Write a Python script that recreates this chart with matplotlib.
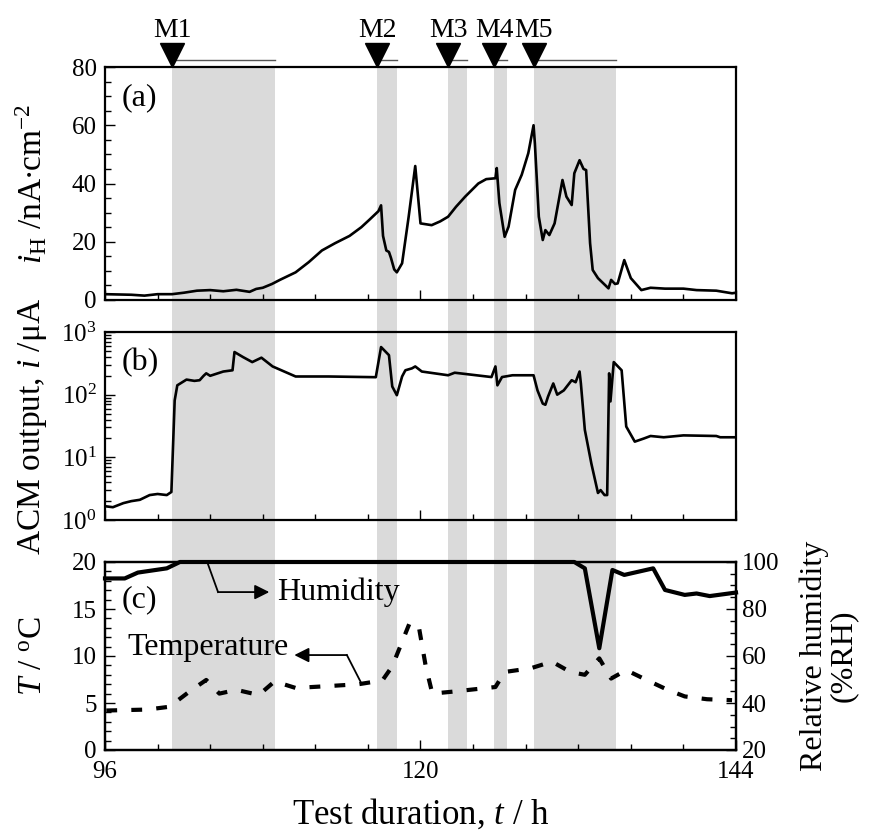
import matplotlib
matplotlib.use("Agg")
import matplotlib.pyplot as plt
from matplotlib.ticker import MultipleLocator, LogLocator, NullFormatter

plt.rcParams['font.family'] = ['Liberation Serif', 'DejaVu Serif']
plt.rcParams['mathtext.fontset'] = 'custom'
plt.rcParams['mathtext.rm'] = 'Liberation Serif'
plt.rcParams['mathtext.it'] = 'Liberation Serif:italic'

# shaded measurement periods (h)
marks = ["M1", "M2", "M3", "M4", "M5"]
shade_start = [101.1, 116.7, 122.1, 125.6, 128.6]
shade_end = [108.9, 118.2, 123.5, 126.6, 134.9]

# (a) hydrogen permeation current density, nA/cm2
t_a = [96.0, 98.0, 99.0, 100.0, 101.1, 102.0, 103.0, 104.0, 105.0, 106.0, 107.0, 107.5,
       108.0, 108.7, 109.3, 110.5, 111.5, 112.5, 113.5, 114.6, 115.5, 116.1, 116.8, 117.0,
       117.15, 117.4, 117.6, 117.75, 118.0, 118.2, 118.6, 119.1, 119.6, 120.0, 120.85,
       121.5, 122.1, 122.7, 123.4, 124.4, 125.0, 125.7, 125.8, 126.0, 126.4, 126.7, 127.2,
       127.7, 128.2, 128.6, 128.7, 129.0, 129.3, 129.5, 129.8, 130.2, 130.8, 131.1, 131.5,
       131.7, 132.1, 132.4, 132.6, 132.9, 133.1, 133.5, 134.3, 134.5, 134.8, 135.0, 135.5,
       136.0, 136.8, 137.5, 138.6, 140.0, 141.0, 142.5, 143.7, 144.0]
i_a = [2.0, 1.8, 1.5, 2.0, 2.0, 2.5, 3.2, 3.4, 3.0, 3.5, 2.8, 3.8,
       4.2, 5.5, 6.9, 9.5, 13.0, 17.0, 19.5, 22.0, 25.0, 27.5, 30.5, 32.5,
       22.0, 17.0, 16.5, 14.5, 10.5, 9.5, 12.6, 28.6, 46.0, 26.3, 25.7,
       27.0, 28.6, 32.0, 35.5, 40.0, 41.5, 41.8, 45.3, 33.3, 21.7, 25.2, 37.8,
       43.0, 50.4, 60.0, 53.8, 28.6, 20.6, 24.0, 22.3, 26.3, 41.2, 35.5, 32.6,
       43.5, 48.0, 45.0, 44.6, 19.5, 10.3, 7.5, 4.0, 6.9, 5.5, 5.7, 13.7,
       7.5, 3.4, 4.2, 3.9, 3.9, 3.4, 3.2, 2.3, 2.5]

# (b) ACM output, uA
t_b = [96.0, 96.6, 97.4, 98.0, 98.65, 99.4, 100.0, 100.7, 101.05, 101.3, 101.5, 102.2,
       102.8, 103.2, 103.5, 103.7, 104.0, 105.0, 105.7, 105.85, 106.5, 107.2, 107.9, 108.75,
       110.5, 113.0, 116.6, 117.0, 117.6, 117.85, 118.2, 118.6, 118.85, 119.35, 119.6, 120.1,
       122.1, 122.6, 125.4, 125.7, 125.85, 126.2, 127.0, 128.6, 128.9, 129.3, 129.5, 129.7,
       130.1, 130.4, 130.9, 131.5, 131.8, 132.1, 132.2, 132.5, 133.0, 133.5, 133.7, 134.0,
       134.2, 134.35, 134.45, 134.7, 135.3, 135.65, 136.3, 137.0, 137.5, 138.5, 140.0, 142.5,
       142.8, 144.0]
i_b = [1.66, 1.6, 1.86, 2.0, 2.1, 2.5, 2.6, 2.5, 2.8, 81, 141, 174,
       166, 170, 200, 219, 200, 234, 245, 479, 398, 331, 389, 282,
       195, 195, 190, 575, 427, 135, 98, 195, 245, 263, 282, 234,
       204, 224, 191, 282, 141, 191, 204, 204, 117, 72, 69, 93,
       151, 100, 117, 170, 158, 234, 151, 27.5, 7.9, 2.7, 3.0, 2.5,
       2.5, 219, 78, 331, 245, 31, 17.8, 20, 21.9, 20.9, 22.4, 21.9,
       20.9, 20.9]

# (c) relative humidity (%RH) and temperature (degC)
t_rh = [96.0, 97.5, 98.5, 100.7, 101.7, 131.7, 132.5, 133.6, 134.6, 135.5, 137.7, 138.6,
        140.1, 141.0, 142.0, 144.0]
rh = [93, 93, 95.5, 97.3, 100, 100, 97.3, 63.3, 96.6, 94.5, 97.3, 88.1,
      86, 86.6, 85.5, 87]
t_temp = [96.1, 99.2, 100.9, 102.5, 103.7, 104.7, 106.0, 107.7, 108.9, 110.5, 113.0, 115.3,
          117.1, 117.85, 119.2, 119.9, 120.4, 120.9, 122.4, 125.7, 126.4, 128.4, 130.0, 131.4,
          132.5, 133.6, 134.5, 135.65, 137.2, 138.8, 140.1, 141.8, 143.7]
temp = [4.2, 4.3, 4.6, 6.3, 7.45, 6.0, 6.4, 5.85, 7.3, 6.6, 6.8, 7.0,
        7.4, 8.9, 13.6, 12.9, 8.9, 6.0, 6.2, 6.7, 8.3, 8.7, 9.4, 8.3,
        8.0, 9.75, 7.6, 8.5, 7.45, 6.4, 5.7, 5.4, 5.3]

W, H = 873, 836
fig = plt.figure(figsize=(W / 100, H / 100), dpi=100)
L, R = 105, 736


def box(top, bottom):
    return [L / W, 1 - bottom / H, (R - L) / W, (bottom - top) / H]


shade = '#dadada'
ax_bg = fig.add_axes(box(67, 750), zorder=0)
ax_bg.set_xlim(96, 144)
ax_bg.set_ylim(0, 1)
ax_bg.axis('off')
for s, e in zip(shade_start, shade_end):
    ax_bg.axvspan(s, e, color=shade, lw=0)

ax_a = fig.add_axes(box(67, 300), zorder=2)
ax_b = fig.add_axes(box(332, 520), zorder=2)
ax_c = fig.add_axes(box(562, 750), zorder=2)
ax_r = ax_c.twinx()
ax_r.set_zorder(3)

tfs = 18
lfs = 24
for ax in (ax_a, ax_b, ax_c, ax_r):
    ax.set_facecolor('none')
    ax.set_xlim(96, 144)
    for sp in ax.spines.values():
        sp.set_linewidth(1.6)
    ax.xaxis.set_major_locator(MultipleLocator(24))
    ax.xaxis.set_minor_locator(MultipleLocator(4))
    ax.tick_params(which='both', direction='in', top=False, labelsize=tfs, width=1.0)
    ax.tick_params(which='major', length=7)
    ax.tick_params(which='minor', length=4)
    ax.tick_params(axis='y', pad=6)
    ax.tick_params(axis='x', pad=8)

for ax in (ax_a, ax_b, ax_c):
    ax.tick_params(right=False)
for ax in (ax_a, ax_b):
    ax.tick_params(labelbottom=False)

# (a)
ax_a.plot(t_a, i_a, color='black', lw=1.9)
ax_a.set_ylim(0, 80)
ax_a.yaxis.set_major_locator(MultipleLocator(20))
ax_a.yaxis.set_minor_locator(MultipleLocator(5))
ax_a.set_ylabel(r'$i_{\mathrm{H}}$ /nA$\bullet$cm$^{-2}$', fontsize=lfs)
ax_a.text(0.027, 0.87, '(a)', transform=ax_a.transAxes, fontsize=23, va='center')

for m, s, e in zip(marks, shade_start, shade_end):
    ax_a.plot([s, e], [82.3, 82.3], color='#555555', lw=1, clip_on=False)
    ax_a.plot([s], [84.2], marker='v', color='black', markersize=17, clip_on=False)
    ax_a.text(s, 88.3, m, ha='center', va='bottom', fontsize=20)

# (b)
ax_b.plot(t_b, i_b, color='black', lw=1.9)
ax_b.set_yscale('log')
ax_b.set_ylim(1, 1000)
ax_b.yaxis.set_major_locator(LogLocator(base=10, numticks=10))
ax_b.yaxis.set_minor_locator(LogLocator(base=10, subs=range(2, 10), numticks=10))
ax_b.yaxis.set_minor_formatter(NullFormatter())
ax_b.set_ylabel(r'ACM output, $i$ /$\mathrm{\mu}$A', fontsize=lfs)
ax_b.text(0.027, 0.84, '(b)', transform=ax_b.transAxes, fontsize=23, va='center')

# (c)
ax_c.plot(t_temp, temp, color='black', lw=3, linestyle=(0, (2.6, 3.4)))
ax_c.set_ylim(0, 20)
ax_c.yaxis.set_major_locator(MultipleLocator(5))
ax_c.yaxis.set_minor_locator(MultipleLocator(1))
ax_c.set_ylabel(r'$T$ / $^{\mathrm{o}}$C', fontsize=lfs)
ax_c.text(0.027, 0.8, '(c)', transform=ax_c.transAxes, fontsize=23, va='center')

ax_r.plot(t_rh, rh, color='black', lw=3, clip_on=False)
ax_r.set_ylim(20, 100)
ax_r.yaxis.set_major_locator(MultipleLocator(20))
ax_r.yaxis.set_minor_locator(MultipleLocator(5))
ax_r.tick_params(left=False, right=True, labelright=True, pad=4)
ax_r.set_ylabel('Relative humidity\n(%RH)', fontsize=23, rotation=90,
                linespacing=1.0)
ax_r.yaxis.set_label_coords(1.100, 0.5)

ax_c.set_xlabel(r'Test duration, $t$ / h', fontsize=25, labelpad=10)

# arrows for the two curves
ax_c.plot([103.8, 104.6], [19.9, 16.8], color='black', lw=1.3)
ax_c.annotate('', xy=(108.5, 16.8), xytext=(104.6, 16.8),
              arrowprops=dict(arrowstyle='-|>', color='black', lw=1.3,
                              mutation_scale=22, shrinkA=0, shrinkB=0))
ax_c.text(109.1, 16.8, 'Humidity', fontsize=23, va='center', ha='left')

ax_c.plot([115.5, 114.4], [7.1, 10.1], color='black', lw=1.3)
ax_c.annotate('', xy=(110.4, 10.1), xytext=(114.4, 10.1),
              arrowprops=dict(arrowstyle='-|>', color='black', lw=1.3,
                              mutation_scale=22, shrinkA=0, shrinkB=0))
ax_c.text(110.0, 10.9, 'Temperature', fontsize=23, va='center', ha='right')

for ax in (ax_a, ax_b, ax_c):
    ax.yaxis.set_label_coords(-0.088, 0.5)

fig.savefig('out.png', dpi=100)
